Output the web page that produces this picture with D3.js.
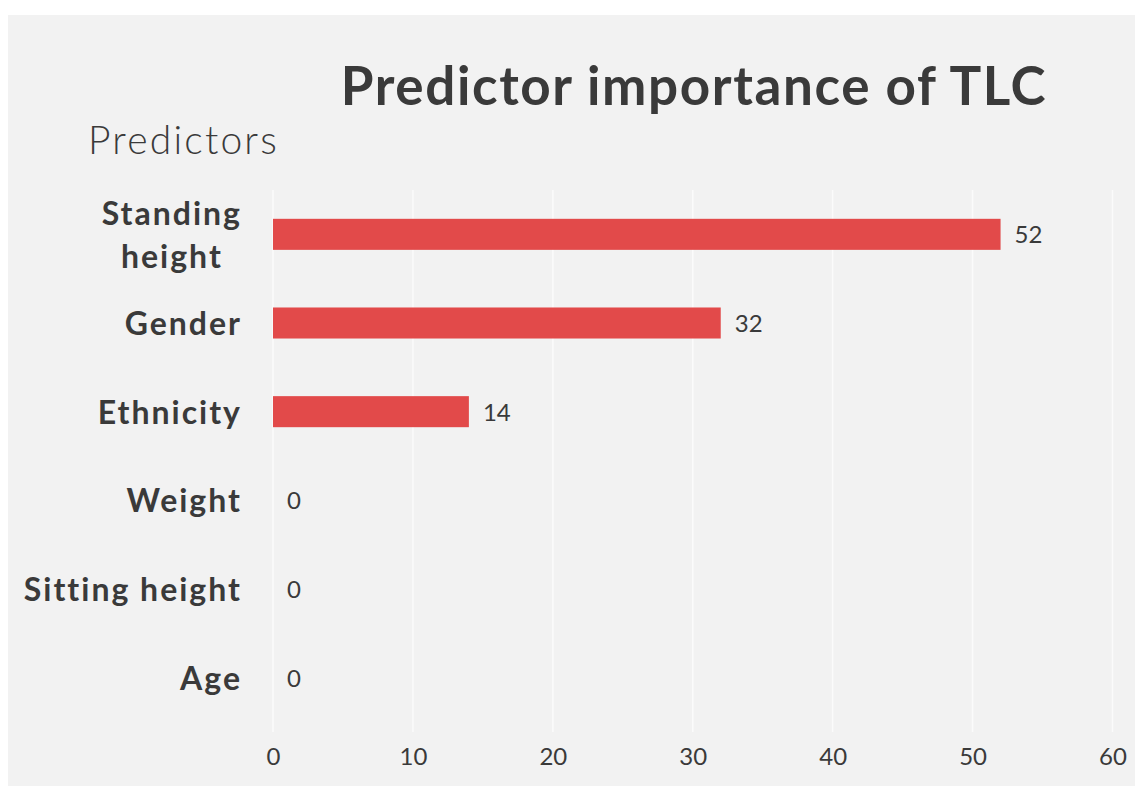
<html>
<script src='https://d3js.org/d3.v7.min.js'></script>
<style>
    body { margin: 0; background: #fff; }
    text { font-family: Lato, 'Open Sans', sans-serif; fill: #3a3a3a; }
</style>

<body onload='init()'>
    <svg width=1135 height=790></svg>
    <script>
        // data
        const predictors = ['Standing height', 'Gender', 'Ethnicity', 'Weight', 'Sitting height', 'Age'];
        const importance = [52, 32, 14, 0, 0, 0];
        const ticks = [0, 10, 20, 30, 40, 50, 60];

        function init() {
            const svg = d3.select('svg');

            // grey panel
            svg.append('rect')
                .attr('x', 8).attr('y', 15)
                .attr('width', 1135).attr('height', 771)
                .attr('fill', '#f2f2f2');

            const x = d3.scaleLinear().domain([0, 60]).range([273, 1112.5]);
            const y = d3.scaleBand().domain(predictors).range([190, 722])
                .paddingInner(0.65).paddingOuter(0.325);

            // vertical gridlines
            svg.append('g').selectAll('line')
                .data(ticks)
                .enter()
                .append('line')
                .attr('x1', d => x(d)).attr('x2', d => x(d))
                .attr('y1', 190).attr('y2', 732)
                .attr('stroke', '#fbfbfb')
                .attr('stroke-width', 1.5);

            // x axis labels
            const xAxis = svg.append('g')
                .attr('transform', 'translate(0,765)')
                .call(d3.axisBottom(x).tickValues(ticks).tickSize(0).tickPadding(0));
            xAxis.select('.domain').remove();
            xAxis.selectAll('text')
                .attr('dy', 0)
                .style('font-size', '24px')
                .style('font-family', 'Lato, sans-serif')
                .style('fill', '#3a3a3a');

            // bars
            const data = predictors.map((p, i) => ({ name: p, value: importance[i] }));
            svg.append('g').selectAll('rect')
                .data(data)
                .enter()
                .append('rect')
                .attr('x', x(0))
                .attr('y', d => y(d.name))
                .attr('width', d => x(d.value) - x(0))
                .attr('height', y.bandwidth())
                .attr('fill', '#e24a4a');

            // value labels
            svg.append('g').selectAll('text')
                .data(data)
                .enter()
                .append('text')
                .attr('x', d => x(d.value) + 14)
                .attr('y', d => y(d.name) + y.bandwidth() / 2 + 9)
                .style('font-size', '24px')
                .text(d => d.value);

            // category labels, wrapped ones centred as a block then right aligned
            const cat = svg.append('g');
            predictors.forEach(p => {
                const cy = y(p) + y.bandwidth() / 2;
                const words = p === 'Standing height' ? ['Standing', 'height'] : [p];
                const g = cat.append('g');
                const lines = words.map((w, i) => g.append('text')
                    .attr('y', cy + 12 + (i - (words.length - 1) / 2) * 43)
                    .attr('text-anchor', 'middle')
                    .style('font-size', '32px')
                    .style('font-weight', 'bold')
                    .style('letter-spacing', '2px')
                    .text(w));
                const w = d3.max(lines, t => t.node().getComputedTextLength()) - 2;
                lines.forEach(t => t.attr('x', 240 - w / 2 + 1));
            });

            // titles
            svg.append('text')
                .attr('x', 694).attr('y', 105)
                .attr('text-anchor', 'middle')
                .style('font-size', '53px')
                .style('font-weight', 'bold')
                .style('letter-spacing', '1.6px')
                .text('Predictor importance of TLC');

            svg.append('text')
                .attr('x', 88).attr('y', 154)
                .style('font-size', '39px')
                .style('font-weight', 300)
                .style('letter-spacing', '2.2px')
                .text('Predictors');
        }
    </script>
</body>

</html>
